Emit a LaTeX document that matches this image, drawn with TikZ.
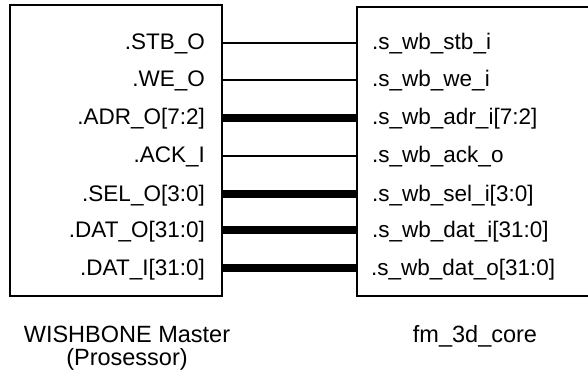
\documentclass[tikz,border=0pt]{standalone}
\usepackage{fontspec}
\setmainfont{Liberation Sans}
\usetikzlibrary{positioning}

\begin{document}
\begin{tikzpicture}[x=1pt,y=1pt]
        \tikzstyle{block}=[draw,line width=1.3pt,inner sep=0pt]
        \tikzstyle{port}=[inner sep=0pt,font=\fontsize{22.5}{26}\selectfont]
        \tikzstyle{wire}=[line width=1.1pt]
        \tikzstyle{bus}=[line width=7.5pt]
        \tikzstyle{title}=[inner sep=0pt,font=\fontsize{23.5}{27}\selectfont]
        \clip (0,0) rectangle (588,378);
        % the two modules
        \node[block,minimum width=212pt,minimum height=291pt] (master) at (116,227.5) {};
        \node[block,minimum width=260pt,minimum height=289pt] (core) at (487,226.5) {};
        % master ports
        \node[port,anchor=base east] (mstb) at (205,328) {.STB\_O};
        \node[port,anchor=base east] (mwe) at (205,291) {.WE\_O};
        \node[port,anchor=base east] (madr) at (205,253) {.ADR\_O[7:2]};
        \node[port,anchor=base east] (mack) at (205,215) {.ACK\_I};
        \node[port,anchor=base east] (msel) at (205,177) {.SEL\_O[3:0]};
        \node[port,anchor=base east] (mdato) at (205,141) {.DAT\_O[31:0]};
        \node[port,anchor=base east] (mdati) at (205,103) {.DAT\_I[31:0]};
        % core ports
        \node[port,anchor=base west] (cstb) at (372,328) {.s\_wb\_stb\_i};
        \node[port,anchor=base west] (cwe) at (372,291) {.s\_wb\_we\_i};
        \node[port,anchor=base west] (cadr) at (372,253) {.s\_wb\_adr\_i[7:2]};
        \node[port,anchor=base west] (cack) at (372,215) {.s\_wb\_ack\_o};
        \node[port,anchor=base west] (csel) at (372,177) {.s\_wb\_sel\_i[3:0]};
        \node[port,anchor=base west] (cdati) at (372,141) {.s\_wb\_dat\_i[31:0]};
        \node[port,anchor=base west] (cdato) at (371,103) {.s\_wb\_dat\_o[31:0]};
        % connections
        \draw[wire] (master.east |- 0,335) -- (core.west |- 0,335);
        \draw[wire] (master.east |- 0,298) -- (core.west |- 0,298);
        \draw[bus] (master.east |- 0,260) -- (core.west |- 0,260);
        \draw[wire] (master.east |- 0,222) -- (core.west |- 0,222);
        \draw[bus] (master.east |- 0,184) -- (core.west |- 0,184);
        \draw[bus] (master.east |- 0,148) -- (core.west |- 0,148);
        \draw[bus] (master.east |- 0,110) -- (core.west |- 0,110);
        % names
        \node[title,anchor=base] (mname) at (127,36) {WISHBONE Master};
        \node[title,anchor=base] (mrole) at (127,13) {(Prosessor)};
        \node[title,anchor=base] (cname) at (475,36) {fm\_3d\_core};
\end{tikzpicture}
\end{document}
